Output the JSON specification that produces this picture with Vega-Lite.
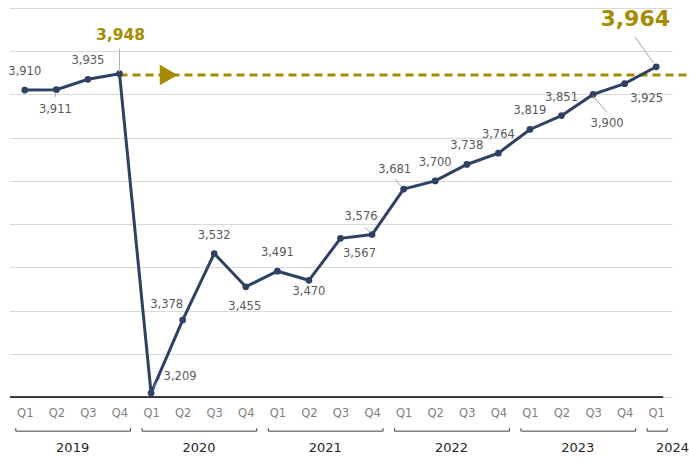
{
  "$schema": "https://vega.github.io/schema/vega-lite/v6.json",
  "width": 663,
  "height": 389,
  "autosize": {"type": "none"},
  "padding": {"left": 9, "top": 8, "right": 17, "bottom": 63},
  "config": {"view": {"stroke": null}, "font": "DejaVu Sans"},
  "datasets": {
    "years": [
      {"year": 2019, "first": 0, "last": 3},
      {"year": 2020, "first": 4, "last": 7},
      {"year": 2021, "first": 8, "last": 11},
      {"year": 2022, "first": 12, "last": 15},
      {"year": 2023, "first": 16, "last": 19},
      {"year": 2024, "first": 20, "last": 20}
    ]
  },
  "data": {"values": [
    {"i": 0, "period": "2019 Q1", "v": 3910},
    {"i": 1, "period": "2019 Q2", "v": 3911},
    {"i": 2, "period": "2019 Q3", "v": 3935},
    {"i": 3, "period": "2019 Q4", "v": 3948},
    {"i": 4, "period": "2020 Q1", "v": 3209},
    {"i": 5, "period": "2020 Q2", "v": 3378},
    {"i": 6, "period": "2020 Q3", "v": 3532},
    {"i": 7, "period": "2020 Q4", "v": 3455},
    {"i": 8, "period": "2021 Q1", "v": 3491},
    {"i": 9, "period": "2021 Q2", "v": 3470},
    {"i": 10, "period": "2021 Q3", "v": 3567},
    {"i": 11, "period": "2021 Q4", "v": 3576},
    {"i": 12, "period": "2022 Q1", "v": 3681},
    {"i": 13, "period": "2022 Q2", "v": 3700},
    {"i": 14, "period": "2022 Q3", "v": 3738},
    {"i": 15, "period": "2022 Q4", "v": 3764},
    {"i": 16, "period": "2023 Q1", "v": 3819},
    {"i": 17, "period": "2023 Q2", "v": 3851},
    {"i": 18, "period": "2023 Q3", "v": 3900},
    {"i": 19, "period": "2023 Q4", "v": 3925},
    {"i": 20, "period": "2024 Q1", "v": 3964}
  ]},
  "resolve": {"axis": {"x": "independent"}},
  "layer": [
    {
      "data": {"values": [{}]},
      "mark": {"type": "rule", "color": "#A68B00", "strokeWidth": 3, "strokeDash": [8, 5]},
      "encoding": {
        "x": {"datum": 3, "type": "quantitative", "scale": {"domain": [-0.5, 20.5], "nice": false, "zero": false}, "axis": {"values": [0,1,2,3,4,5,6,7,8,9,10,11,12,13,14,15,16,17,18,19,20], "labelExpr": "'Q' + (datum.value % 4 + 1)", "ticks": false, "domain": false, "grid": false, "labelFontSize": 11.5, "labelColor": "#7f7f7f", "labelPadding": 10, "labelFlush": false, "labelOverlap": false, "title": null}},
        "x2": {"datum": 21},
        "y": {"datum": 3945, "type": "quantitative", "scale": {"domain": [3200, 4100], "nice": false, "zero": false}, "axis": {"values": [3200,3300,3400,3500,3600,3700,3800,3900,4000,4100], "grid": true, "gridColor": "#d9d9d9", "labels": false, "ticks": false, "domain": false, "title": null}}
      }
    },
    {
      "data": {"values": [{}]},
      "mark": {"type": "point", "shape": "triangle-right", "filled": true, "opacity": 1, "color": "#A68B00", "size": 430},
      "encoding": {
        "x": {"datum": 4.56, "type": "quantitative", "axis": null},
        "y": {"datum": 3945, "type": "quantitative"}
      }
    },
    {
      "data": {"values": [{}]},
      "mark": {"type": "rule", "color": "#000000", "strokeWidth": 1.5},
      "encoding": {
        "x": {"datum": -0.47, "type": "quantitative", "axis": null},
        "x2": {"datum": 20.22},
        "y": {"datum": 3200, "type": "quantitative"}
      }
    },
    {
      "mark": {"type": "line", "color": "#2F4163", "strokeWidth": 3},
      "encoding": {
        "x": {"field": "i", "type": "quantitative", "axis": null},
        "y": {"field": "v", "type": "quantitative", "title": null}
      }
    },
    {
      "mark": {"type": "point", "filled": true, "opacity": 1, "color": "#2F4163", "size": 45},
      "encoding": {
        "x": {"field": "i", "type": "quantitative", "axis": null},
        "y": {"field": "v", "type": "quantitative", "title": null}
      }
    },
    {
      "data": {"values": [{}]},
      "mark": {"type": "rule", "color": "#a6a6a6", "strokeWidth": 1},
      "encoding": {"x": {"datum": 0.99, "type": "quantitative", "axis": null}, "x2": {"datum": 0.96}, "y": {"datum": 3906, "type": "quantitative"}, "y2": {"datum": 3894}}
    },
    {
      "data": {"values": [{}]},
      "mark": {"type": "rule", "color": "#b0b0b0", "strokeWidth": 1},
      "encoding": {"x": {"datum": 3, "type": "quantitative", "axis": null}, "y": {"datum": 3952, "type": "quantitative"}, "y2": {"datum": 4006}}
    },
    {
      "data": {"values": [{}]},
      "mark": {"type": "rule", "color": "#a6a6a6", "strokeWidth": 1},
      "encoding": {"x": {"datum": 4.08, "type": "quantitative", "axis": null}, "x2": {"datum": 4.28}, "y": {"datum": 3222, "type": "quantitative"}, "y2": {"datum": 3244}}
    },
    {
      "data": {"values": [{}]},
      "mark": {"type": "rule", "color": "#a6a6a6", "strokeWidth": 1},
      "encoding": {"x": {"datum": 10.77, "type": "quantitative", "axis": null}, "x2": {"datum": 10.94}, "y": {"datum": 3593, "type": "quantitative"}, "y2": {"datum": 3580}}
    },
    {
      "data": {"values": [{}]},
      "mark": {"type": "rule", "color": "#a6a6a6", "strokeWidth": 1},
      "encoding": {"x": {"datum": 11.73, "type": "quantitative", "axis": null}, "x2": {"datum": 11.94}, "y": {"datum": 3704, "type": "quantitative"}, "y2": {"datum": 3686}}
    },
    {
      "data": {"values": [{}]},
      "mark": {"type": "rule", "color": "#a6a6a6", "strokeWidth": 1},
      "encoding": {"x": {"datum": 17.98, "type": "quantitative", "axis": null}, "x2": {"datum": 18.44}, "y": {"datum": 3898, "type": "quantitative"}, "y2": {"datum": 3859}}
    },
    {
      "data": {"values": [{}]},
      "mark": {"type": "rule", "color": "#a6a6a6", "strokeWidth": 1},
      "encoding": {"x": {"datum": 19.33, "type": "quantitative", "axis": null}, "x2": {"datum": 19.92}, "y": {"datum": 4033, "type": "quantitative"}, "y2": {"datum": 3972}}
    },
    {
      "transform": [{"filter": {"field": "i", "oneOf": [0, 2, 6, 8, 13, 14, 15, 16, 17]}}],
      "mark": {"type": "text", "dy": -18, "fontSize": 11.5, "color": "#595959"},
      "encoding": {"x": {"field": "i", "type": "quantitative", "axis": null}, "y": {"field": "v", "type": "quantitative"}, "text": {"field": "v", "type": "quantitative", "format": ","}}
    },
    {
      "transform": [{"filter": {"field": "i", "oneOf": [1, 7]}}],
      "mark": {"type": "text", "dy": 20, "dx": -1, "fontSize": 11.5, "color": "#595959"},
      "encoding": {"x": {"field": "i", "type": "quantitative", "axis": null}, "y": {"field": "v", "type": "quantitative"}, "text": {"field": "v", "type": "quantitative", "format": ","}}
    },
    {
      "transform": [{"filter": {"field": "i", "equal": 9}}],
      "mark": {"type": "text", "dy": 12, "fontSize": 11.5, "color": "#595959"},
      "encoding": {"x": {"field": "i", "type": "quantitative", "axis": null}, "y": {"field": "v", "type": "quantitative"}, "text": {"field": "v", "type": "quantitative", "format": ","}}
    },
    {
      "transform": [{"filter": {"field": "i", "equal": 4}}],
      "mark": {"type": "text", "dx": 29, "dy": -16, "fontSize": 11.5, "color": "#595959"},
      "encoding": {"x": {"field": "i", "type": "quantitative", "axis": null}, "y": {"field": "v", "type": "quantitative"}, "text": {"field": "v", "type": "quantitative", "format": ","}}
    },
    {
      "transform": [{"filter": {"field": "i", "equal": 5}}],
      "mark": {"type": "text", "dx": -16, "dy": -15, "fontSize": 11.5, "color": "#595959"},
      "encoding": {"x": {"field": "i", "type": "quantitative", "axis": null}, "y": {"field": "v", "type": "quantitative"}, "text": {"field": "v", "type": "quantitative", "format": ","}}
    },
    {
      "transform": [{"filter": {"field": "i", "equal": 10}}],
      "mark": {"type": "text", "dx": 19, "dy": 16, "fontSize": 11.5, "color": "#595959"},
      "encoding": {"x": {"field": "i", "type": "quantitative", "axis": null}, "y": {"field": "v", "type": "quantitative"}, "text": {"field": "v", "type": "quantitative", "format": ","}}
    },
    {
      "transform": [{"filter": {"field": "i", "equal": 11}}],
      "mark": {"type": "text", "dx": -11, "dy": -17, "fontSize": 11.5, "color": "#595959"},
      "encoding": {"x": {"field": "i", "type": "quantitative", "axis": null}, "y": {"field": "v", "type": "quantitative"}, "text": {"field": "v", "type": "quantitative", "format": ","}}
    },
    {
      "transform": [{"filter": {"field": "i", "equal": 12}}],
      "mark": {"type": "text", "dx": -9, "dy": -19, "fontSize": 11.5, "color": "#595959"},
      "encoding": {"x": {"field": "i", "type": "quantitative", "axis": null}, "y": {"field": "v", "type": "quantitative"}, "text": {"field": "v", "type": "quantitative", "format": ","}}
    },
    {
      "transform": [{"filter": {"field": "i", "equal": 18}}],
      "mark": {"type": "text", "dx": 14, "dy": 30, "fontSize": 11.5, "color": "#595959"},
      "encoding": {"x": {"field": "i", "type": "quantitative", "axis": null}, "y": {"field": "v", "type": "quantitative"}, "text": {"field": "v", "type": "quantitative", "format": ","}}
    },
    {
      "transform": [{"filter": {"field": "i", "equal": 19}}],
      "mark": {"type": "text", "dx": 22, "dy": 15, "fontSize": 11.5, "color": "#595959"},
      "encoding": {"x": {"field": "i", "type": "quantitative", "axis": null}, "y": {"field": "v", "type": "quantitative"}, "text": {"field": "v", "type": "quantitative", "format": ","}}
    },
    {
      "transform": [{"filter": {"field": "i", "equal": 3}}],
      "mark": {"type": "text", "dx": 1, "dy": -39, "fontSize": 15.5, "fontWeight": "bold", "color": "#A68B00"},
      "encoding": {"x": {"field": "i", "type": "quantitative", "axis": null}, "y": {"field": "v", "type": "quantitative"}, "text": {"field": "v", "type": "quantitative", "format": ","}}
    },
    {
      "transform": [{"filter": {"field": "i", "equal": 20}}],
      "mark": {"type": "text", "dx": -21, "dy": -48, "fontSize": 22, "fontWeight": "bold", "color": "#A68B00"},
      "encoding": {"x": {"field": "i", "type": "quantitative", "axis": null}, "y": {"field": "v", "type": "quantitative"}, "text": {"field": "v", "type": "quantitative", "format": ","}}
    },
    {
      "data": {"name": "years"},
      "mark": {"type": "rule", "color": "#404040", "strokeWidth": 1, "xOffset": -9, "x2Offset": 11},
      "encoding": {
        "x": {"field": "first", "type": "quantitative", "axis": {"orient": "bottom", "offset": 44, "values": [1.5, 5.5, 9.5, 13.5, 17.5, 20.5], "labelExpr": "'' + (2019 + floor((datum.value + 0.5) / 4))", "ticks": false, "domain": false, "grid": false, "labelFontSize": 13, "labelColor": "#262626", "labelPadding": 0, "labelFlush": false, "labelOverlap": false, "title": null}},
        "x2": {"field": "last"},
        "y": {"datum": 3121, "type": "quantitative"}
      }
    },
    {
      "data": {"name": "years"},
      "mark": {"type": "rule", "color": "#404040", "strokeWidth": 1, "xOffset": -9},
      "encoding": {
        "x": {"field": "first", "type": "quantitative", "axis": null},
        "y": {"datum": 3121, "type": "quantitative"},
        "y2": {"datum": 3128}
      }
    },
    {
      "data": {"name": "years"},
      "mark": {"type": "rule", "color": "#404040", "strokeWidth": 1, "xOffset": 11},
      "encoding": {
        "x": {"field": "last", "type": "quantitative", "axis": null},
        "y": {"datum": 3121, "type": "quantitative"},
        "y2": {"datum": 3128}
      }
    }
  ]
}
